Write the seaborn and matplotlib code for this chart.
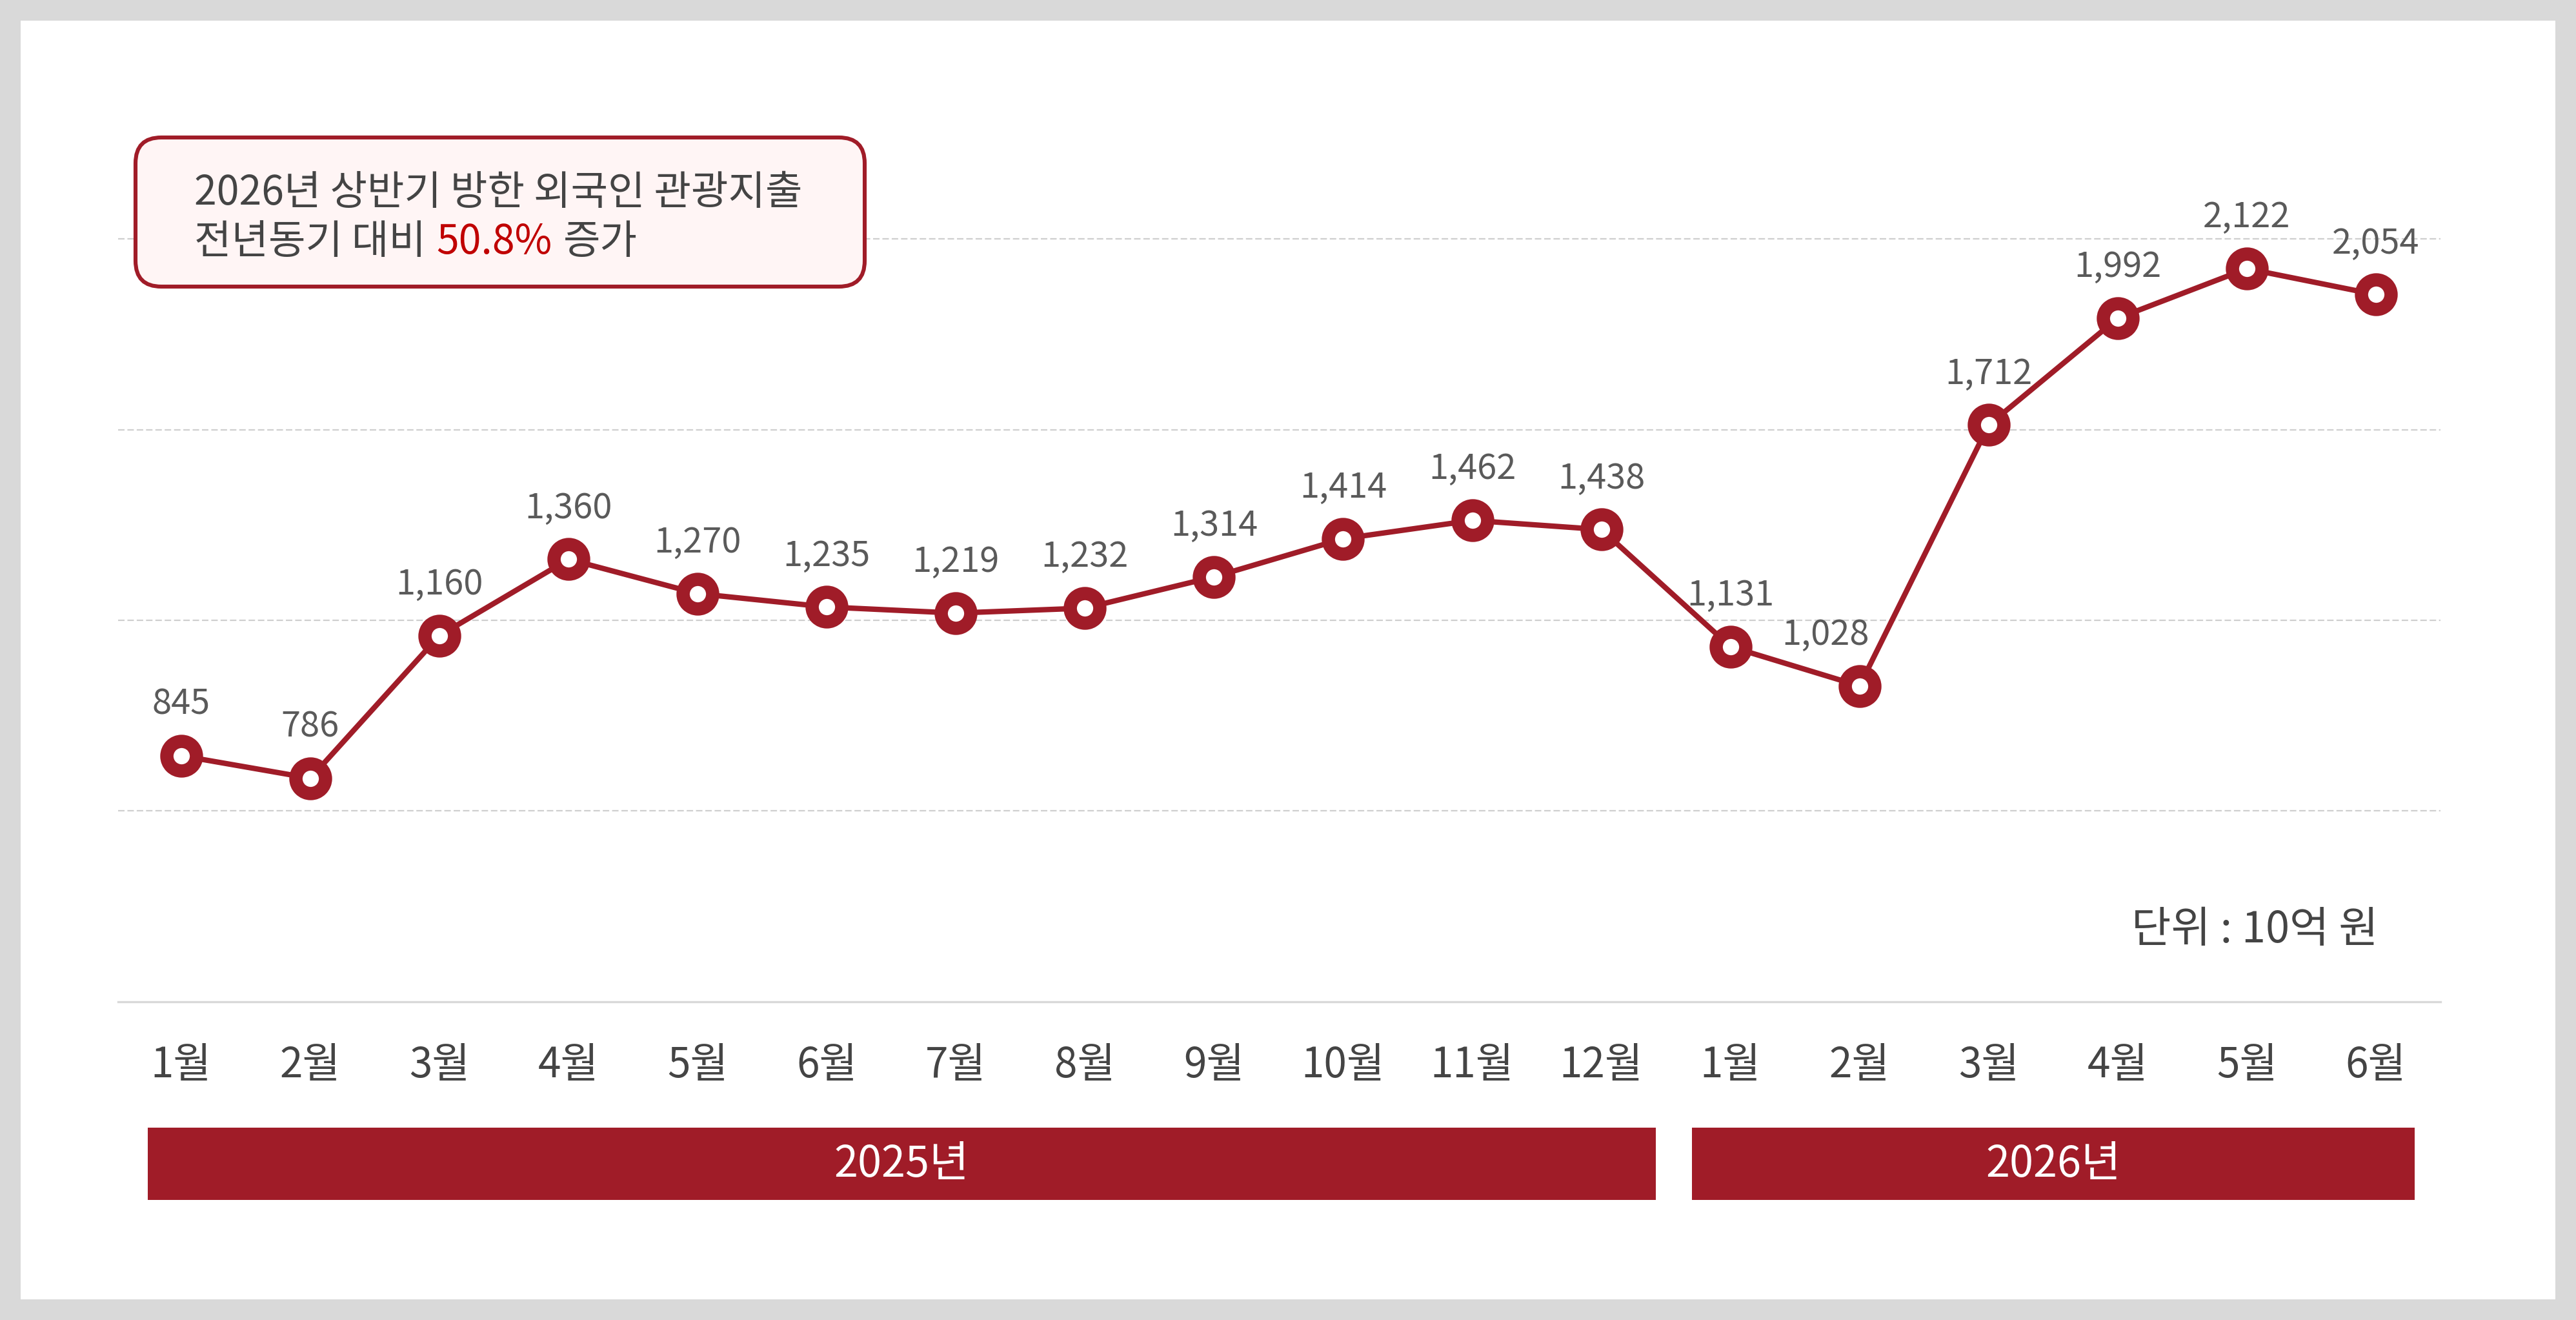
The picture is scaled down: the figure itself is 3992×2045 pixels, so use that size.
import matplotlib
matplotlib.use("Agg")
import matplotlib.pyplot as plt
import matplotlib.transforms as mtransforms
from matplotlib.patches import FancyBboxPatch, Rectangle
from matplotlib.text import Annotation
import pandas as pd
import seaborn as sns

# data
months = ["1월", "2월", "3월", "4월", "5월", "6월", "7월", "8월", "9월",
          "10월", "11월", "12월", "1월", "2월", "3월", "4월", "5월", "6월"]
spend = [845, 786, 1160, 1360, 1270, 1235, 1219, 1232, 1314,
         1414, 1462, 1438, 1131, 1028, 1712, 1992, 2122, 2054]
years = ["2025년", "2026년"]
grid_vals = [700, 1200, 1700, 2200]

RED = "#a01c28"
DARK = "#444444"

sns.set_style("white")
plt.rcParams["font.family"] = ["Noto Sans CJK KR", "DejaVu Sans"]

df = pd.DataFrame({"idx": range(len(spend)), "spend": spend})

fig = plt.figure(figsize=(19.96, 10.225), dpi=200, facecolor="#d9d9d9")
# white card behind everything
fig.patches.append(Rectangle((32 / 3992, 32 / 2045), 3928 / 3992, 1981 / 2045,
                             transform=fig.transFigure, facecolor="white",
                             edgecolor="none", zorder=-10))

ax = fig.add_axes([0.0458, 0.2411, 0.9016, 0.6357])
ax.set_facecolor("none")

sns.lineplot(data=df, x="idx", y="spend", ax=ax, color=RED, linewidth=3,
             marker="o", markersize=16.5, markeredgecolor=RED,
             markeredgewidth=7.4, markerfacecolor="white", zorder=3)
for ln in ax.lines:
    ln.set_markerfacecolor("white")

for i, v in enumerate(spend):
    # the Feb 2026 label is nudged left so it clears the rising line
    dx = -19 if i == 13 else 0
    ax.annotate(f"{v:,}", (i, v), xytext=(dx, 23), textcoords="offset points",
                ha="center", va="baseline", fontsize=19.5, color="#5a5a5a")

ax.set_xlim(-0.49, 17.5)
ax.set_ylim(200, 2400)
ax.set_yticks(grid_vals)
ax.set_yticklabels([])
ax.grid(axis="y", color="#cfcfcf", linestyle=(0, (4.5, 2)), linewidth=0.8)
ax.grid(axis="x", visible=False)
ax.set_xticks(range(len(months)))
ax.set_xticklabels(months, fontsize=23, color=DARK)
ax.tick_params(axis="both", length=0)
ax.tick_params(axis="x", pad=23.5)
ax.set_xlabel("")
ax.set_ylabel("")
for s in ["top", "left", "right"]:
    ax.spines[s].set_visible(False)
ax.spines["bottom"].set_color("#d9d9d9")
ax.spines["bottom"].set_linewidth(1.2)

# year bands under month labels
trans = mtransforms.blended_transform_factory(ax.transData, ax.transAxes)
bar_left = [-0.26, 11.70]
bar_right = [11.42, 17.30]
for yr, l, r in zip(years, bar_left, bar_right):
    ax.add_patch(Rectangle((l, -0.236), r - l, 0.086, transform=trans,
                           facecolor=RED, edgecolor="none", clip_on=False))
    ax.text((l + r) / 2, -0.194, yr, transform=trans, ha="center", va="center",
            fontsize=24, color="white", fontweight="medium")

ax.text(17.02, 0.085, "단위 : 10억 원", transform=trans, ha="right", va="center",
        fontsize=24, color=DARK)

# headline box
fig.patches.append(FancyBboxPatch((210, 2045 - 444), 1130, 231,
                                  boxstyle="round,pad=0,rounding_size=40",
                                  transform=mtransforms.IdentityTransform(),
                                  facecolor="#fff5f5", edgecolor=RED,
                                  linewidth=2.2, zorder=5))
fig.text(301 / 3992, 1 - 299 / 2045, "2026년 상반기 방한 외국인 관광지출",
         ha="left", va="center", fontsize=22.5, color=DARK,
         fontweight="medium", zorder=6)
t1 = fig.text(301 / 3992, 1 - 375 / 2045, "전년동기 대비", ha="left",
              va="center", fontsize=22.5, color=DARK, fontweight="medium", zorder=6)
t2 = Annotation("50.8%", xy=(1, 0), xycoords=t1, xytext=(6, 0),
                textcoords="offset points", ha="left", va="bottom",
                fontsize=22.5, color="#c00000", fontweight="medium", zorder=6)
fig.add_artist(t2)
t3 = Annotation("증가", xy=(1, 0), xycoords=t2, xytext=(6, 0),
                textcoords="offset points", ha="left", va="bottom",
                fontsize=22.5, color=DARK, fontweight="medium", zorder=6)
fig.add_artist(t3)

fig.savefig("out.png", dpi=200, facecolor=fig.get_facecolor())
